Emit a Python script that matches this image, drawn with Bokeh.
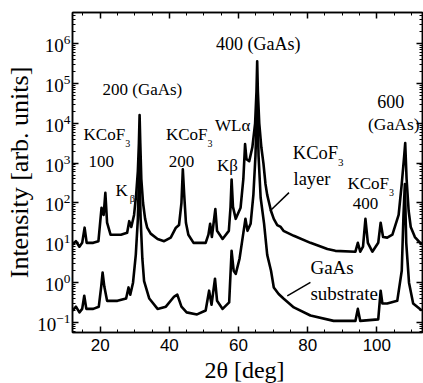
import math
from bokeh.plotting import figure
from bokeh.models import Range1d, FixedTicker, LinearAxis, LogAxis, Label
from bokeh.embed import file_html
from bokeh.resources import INLINE

# ---------------- data ----------------
two_theta_layer = [12.0, 13.0, 14.0, 14.8, 15.5, 16.1, 18.0, 19.5, 20.4, 21.0, 21.5, 22.0, 23.0, 26.0,
                   27.8, 28.4, 29.0, 29.8, 30.4, 30.9, 31.2, 31.4, 31.6, 31.9, 32.4, 33.0, 33.6, 34.6,
                   36.6, 38.5, 40.4, 41.9, 42.8, 43.5, 43.9, 44.3, 44.8, 45.5, 47.0, 50.5, 51.3, 51.8,
                   52.3, 53.3, 53.8, 55.4, 57.2, 57.7, 58.0, 58.4, 59.2, 60.6, 61.4, 61.9, 62.3, 63.1,
                   64.0, 64.8, 65.2, 65.4, 65.6, 66.0, 66.6, 67.2, 67.8, 68.3, 69.4, 70.2, 71.2, 72.2,
                   73.0, 76.0, 80.8, 85.7, 88.0, 93.8, 94.5, 95.2, 96.0, 96.7, 97.4, 98.7, 100.4, 101.1,
                   101.8, 103.0, 104.5, 106.3, 107.2, 107.9, 108.2, 108.6, 109.2, 109.8, 111.0, 113.0]
intensity_layer = [9, 11, 8, 10, 24, 10, 10, 11, 76, 50, 180, 32, 16, 16,
                   18, 35, 25, 50, 160, 630, 3200, 16000, 3200, 400, 100, 40, 24, 17,
                   12.5, 11, 13.5, 24, 28, 100, 700, 160, 32, 16, 10, 10, 16, 30,
                   14, 70, 20, 12.5, 20, 80, 390, 80, 40, 76, 400, 3000, 1260, 1120,
                   2500, 10000, 63000, 360000, 63000, 10000, 2500, 1000, 300, 160, 63, 40, 28, 25,
                   20, 15, 10, 7, 6.3, 6, 10, 6, 8, 40, 10, 6, 10, 32,
                   14, 13.5, 16, 50, 300, 1500, 3200, 400, 63, 25, 14, 9]

two_theta_sub = [12.0, 13.0, 14.0, 14.8, 15.4, 16.0, 18.0, 19.6, 20.3, 20.7, 21.2, 22.0, 25.0, 27.5,
                 28.2, 28.7, 29.5, 30.3, 30.9, 31.3, 31.7, 32.2, 32.7, 34.2, 36.6, 39.0, 41.4, 42.3,
                 43.5, 45.0, 48.0, 50.5, 51.5, 52.2, 53.2, 53.8, 55.4, 57.3, 58.0, 58.6, 59.2, 60.3,
                 61.2, 62.0, 62.6, 63.5, 64.3, 64.9, 65.4, 65.8, 66.4, 67.4, 68.3, 69.4, 70.2, 71.6,
                 73.0, 76.0, 80.8, 87.5, 93.8, 94.5, 95.2, 100.4, 101.1, 101.6, 103.0, 105.9, 107.2,
                 107.7, 108.1, 108.5, 109.3, 110.5, 113.0]
intensity_sub = [0.2, 0.25, 0.18, 0.22, 0.47, 0.22, 0.22, 0.25, 0.8, 1.8, 0.8, 0.35, 0.35, 0.4,
                 0.76, 0.5, 1.0, 5, 40, 1000, 40, 4, 1.1, 0.4, 0.22, 0.25, 0.45, 0.5,
                 0.25, 0.18, 0.16, 0.2, 0.63, 0.28, 1.26, 0.35, 0.22, 0.32, 6.3, 2, 1.66, 4,
                 13.5, 40, 20, 30, 160, 1500, 40000, 1500, 135, 30, 5, 2, 0.76, 0.52,
                 0.4, 0.24, 0.15, 0.11, 0.11, 0.22, 0.11, 0.12, 0.63, 0.3, 0.3, 0.35, 2,
                 50, 300, 10, 1, 0.3, 0.2]

x_major_ticks = [20, 40, 60, 80, 100]
x_minor_ticks = list(range(15, 115, 5))
y_exponents = list(range(-1, 7))
y_major_ticks = [10.0 ** k for k in y_exponents]
y_minor_ticks = [m * 10.0 ** k for k in range(-2, 7) for m in range(2, 10)]

X_START, X_END = 12.0, 113.2
Y_START, Y_END = 10 ** -1.25, 10 ** 6.78

SERIF = "Liberation Serif"
SANS = "Liberation Sans"

p = figure(frame_width=350, frame_height=320, y_axis_type="log",
           x_range=Range1d(X_START, X_END), y_range=Range1d(Y_START, Y_END),
           output_backend="svg", toolbar_location=None,
           min_border_left=72, min_border_right=1, min_border_top=12, min_border_bottom=51,
           background_fill_color="white", border_fill_color="white")
p.grid.visible = False
p.outline_line_color = "black"
p.outline_line_width = 1.5

def style_axis(ax, labels):
    ax.major_tick_in = 6
    ax.major_tick_out = 0
    ax.minor_tick_in = 3
    ax.minor_tick_out = 0
    ax.axis_line_color = "black"
    ax.axis_line_width = 1.5
    ax.major_tick_line_width = 1.5
    ax.minor_tick_line_width = 1
    ax.major_tick_line_color = "black"
    ax.minor_tick_line_color = "black"
    if not labels:
        ax.major_label_text_font_size = "0px"
        ax.major_label_standoff = 0

xt = FixedTicker(ticks=x_major_ticks, minor_ticks=x_minor_ticks)
yt = FixedTicker(ticks=y_major_ticks, minor_ticks=y_minor_ticks)

xa = p.xaxis[0]
ya = p.yaxis[0]
xa.ticker = xt
ya.ticker = yt
style_axis(xa, True)
style_axis(ya, True)
xa.major_label_text_font = SANS
xa.major_label_text_font_size = "17px"
xa.major_label_text_color = "black"
xa.major_label_standoff = 6
xa.axis_label = "2θ  [deg]"
xa.axis_label_text_font = SERIF
xa.axis_label_text_font_size = "24px"
xa.axis_label_text_font_style = "normal"
xa.axis_label_text_color = "black"
xa.axis_label_standoff = 3

ya.major_label_text_font = SERIF
ya.major_label_text_font_size = "19px"
ya.major_label_text_color = "black"
ya.major_label_standoff = 2
ya.axis_label = "Intensity [arb. units]"
ya.axis_label_text_font = SERIF
ya.axis_label_text_font_size = "26px"
ya.axis_label_text_font_style = "normal"
ya.axis_label_text_color = "black"
ya.axis_label_standoff = 0

top = LinearAxis(ticker=xt)
style_axis(top, False)
top.major_label_overrides = {t: "" for t in x_major_ticks}
p.add_layout(top, "above")
right = LogAxis(ticker=yt)
style_axis(right, False)
right.major_label_overrides = {t: "" for t in y_major_ticks}
p.add_layout(right, "right")

# curves
p.line(two_theta_layer, intensity_layer, line_color="black", line_width=2.6, line_join="round")
p.line(two_theta_sub, intensity_sub, line_color="black", line_width=2.6, line_join="round")

# leader lines (annotation positions)
p.segment(x0=[74.6, 80.8], y0=[10 ** 2.26, 10 ** 0.01], x1=[69.1, 74.1], y1=[10 ** 1.8, 10 ** -0.33],
          line_color="black", line_width=1.5)

def lab(x, y, text, size=17, align="center", xo=0, yo=0, baseline="middle", font=SERIF):
    p.add_layout(Label(x=x, y=y, text=text, text_font=font, text_font_size=f"{size}px",
                       text_color="black", text_align=align, text_baseline=baseline,
                       x_offset=xo, y_offset=yo))

def kcof3(x, y, size=17, font=SERIF):
    lab(x, y, "KCoF", size=size, align="left", font=font)
    lab(x, y, "3", size=int(size * 0.6), align="left", xo=2.445 * size, yo=-9, font=font)

lab(32.2, 10 ** 4.85, "200 (GaAs)")
lab(65.7, 10 ** 6.0, "400 (GaAs)", size=18)
lab(104.0, 10 ** 4.55, "600", size=18)
lab(104.9, 10 ** 3.98, "(GaAs)", size=17.5)
kcof3(15.2, 10 ** 3.73)
lab(20.3, 10 ** 3.05, "100")
lab(26.2, 10 ** 2.32, "K")
lab(29.3, 10 ** 2.12, "β", size=10)
kcof3(39.0, 10 ** 3.73)
lab(43.5, 10 ** 3.05, "200")
lab(56.8, 10 ** 2.93, "Kβ")
lab(58.3, 10 ** 3.95, "WLα")
kcof3(75.7, 10 ** 3.25, size=18.5)
lab(75.9, 10 ** 2.6, "layer", size=18.5, align="left")
kcof3(91.5, 10 ** 2.48)
lab(96.7, 10 ** 1.98, "400")
lab(80.8, 10 ** 0.38, "GaAs", size=19, align="left")
lab(80.8, 10 ** -0.28, "substrate", size=19, align="left")

open("out.html", "w").write(file_html(p, INLINE))
